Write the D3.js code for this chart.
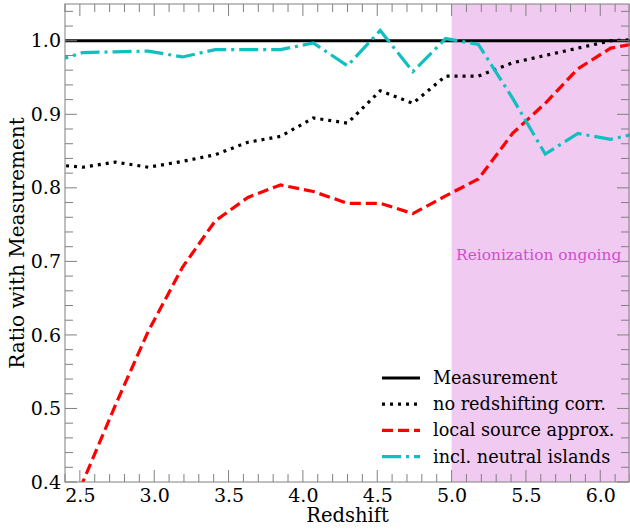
<!DOCTYPE html>
<html>
<head>
<meta charset="utf-8">
<script src="https://cdn.jsdelivr.net/npm/d3@7"></script>
<style>
  html, body { margin: 0; padding: 0; background: #fff; }
  text { font-family: "DejaVu Serif", serif; }
</style>
</head>
<body>
<svg id="chart" width="630" height="530"></svg>
<script>
// Redshift samples shared by every curve
const redshift = [2.30, 2.52, 2.74, 2.96, 3.19, 3.41, 3.63, 3.85, 4.07, 4.30, 4.52, 4.74, 4.96, 5.18, 5.41, 5.63, 5.85, 6.07, 6.29];

// Ratio of each model to the measurement
const measurement    = redshift.map(() => 1.0);
const noRedshifting  = [0.832, 0.828, 0.835, 0.828, 0.836, 0.845, 0.862, 0.870, 0.895, 0.888, 0.932, 0.915, 0.952, 0.952, 0.970, 0.980, 0.990, 1.000, 1.002];
const localSource    = [0.290, 0.400, 0.505, 0.605, 0.692, 0.755, 0.787, 0.804, 0.795, 0.779, 0.779, 0.765, 0.789, 0.812, 0.874, 0.915, 0.962, 0.990, 0.998];
const neutralIslands = [0.970, 0.984, 0.985, 0.986, 0.978, 0.988, 0.988, 0.988, 0.997, 0.966, 1.014, 0.958, 1.003, 0.995, 0.922, 0.846, 0.874, 0.866, 0.876];

const seriesNames = ["Measurement", "no redshifting corr.", "local source approx.", "incl. neutral islands"];

const xTicks = [2.5, 3.0, 3.5, 4.0, 4.5, 5.0, 5.5, 6.0];
const yTicks = [0.4, 0.5, 0.6, 0.7, 0.8, 0.9, 1.0];

const reionStart = 5.0;
const reionLabel = "Reionization ongoing";

const svg = d3.select("#chart");
const pLeft = 65, pRight = 630, pTop = 4, pBottom = 482;

const x = d3.scaleLinear().domain([2.4, 6.2]).range([pLeft, pRight]);
const y = d3.scaleLinear().domain([0.4, 1.05]).range([pBottom, pTop]);

svg.append("defs").append("clipPath").attr("id", "plot-clip")
  .append("rect").attr("x", pLeft).attr("y", pTop)
  .attr("width", pRight - pLeft).attr("height", pBottom - pTop);

// Reionization band
svg.append("rect")
  .attr("x", x(reionStart)).attr("y", pTop)
  .attr("width", x(6.2) - x(reionStart)).attr("height", pBottom - pTop)
  .attr("fill", "#f0caf0");

svg.append("text")
  .attr("x", x(5.586)).attr("y", y(0.707))
  .attr("text-anchor", "middle").attr("dominant-baseline", "middle")
  .attr("font-size", 15.4).attr("fill", "#d04ed0")
  .text(reionLabel);

// Curves
const styles = [
  { values: measurement,    color: "#000000", width: 3,   dash: null },
  { values: noRedshifting,  color: "#000000", width: 3.2, dash: "3,5" },
  { values: localSource,    color: "#ff0000", width: 3.2, dash: "11,5" },
  { values: neutralIslands, color: "#10bfbf", width: 3.2, dash: "19,5,3,5" }
];

const line = d3.line().x((d, i) => x(redshift[i])).y(d => y(d));
const plot = svg.append("g").attr("clip-path", "url(#plot-clip)");
styles.forEach(s => {
  plot.append("path")
    .datum(s.values)
    .attr("d", line)
    .attr("fill", "none")
    .attr("stroke", s.color)
    .attr("stroke-width", s.width)
    .attr("stroke-dasharray", s.dash);
});

// Inward ticks on all four sides
const tickColor = "#808080";
const xMinor = d3.range(2.4, 6.21, 0.1).map(v => +v.toFixed(2));
const yMinor = d3.range(0.4, 1.051, 0.02).map(v => +v.toFixed(2));

function isMajor(v, list) { return list.some(t => Math.abs(t - v) < 1e-6); }

const gTicks = svg.append("g");
xMinor.forEach(v => {
  const len = isMajor(v, xTicks) ? 12 : 8;
  gTicks.append("line").attr("x1", x(v)).attr("x2", x(v))
    .attr("y1", pBottom).attr("y2", pBottom - len)
    .attr("stroke", tickColor).attr("stroke-width", 1);
  gTicks.append("line").attr("x1", x(v)).attr("x2", x(v))
    .attr("y1", pTop).attr("y2", pTop + len)
    .attr("stroke", tickColor).attr("stroke-width", 1);
});
yMinor.forEach(v => {
  const len = isMajor(v, yTicks) ? 12 : 8;
  gTicks.append("line").attr("x1", pLeft).attr("x2", pLeft + len)
    .attr("y1", y(v)).attr("y2", y(v))
    .attr("stroke", tickColor).attr("stroke-width", 1);
  gTicks.append("line").attr("x1", pRight - 1).attr("x2", pRight - 1 - len)
    .attr("y1", y(v)).attr("y2", y(v))
    .attr("stroke", tickColor).attr("stroke-width", 1);
});

// Tick labels via d3 axes (tick lines hidden)
const xAxis = svg.append("g").attr("transform", `translate(0,${pBottom})`)
  .call(d3.axisBottom(x).tickValues(xTicks).tickFormat(d3.format(".1f")).tickSize(0).tickPadding(7));
xAxis.select(".domain").remove();
xAxis.selectAll("text").attr("font-size", 19).attr("fill", "#000").attr("font-family", "DejaVu Serif");

const yAxis = svg.append("g").attr("transform", `translate(${pLeft},0)`)
  .call(d3.axisLeft(y).tickValues(yTicks).tickFormat(d3.format(".1f")).tickSize(0).tickPadding(4));
yAxis.select(".domain").remove();
yAxis.selectAll("text").attr("font-size", 19).attr("fill", "#000").attr("font-family", "DejaVu Serif");

// Frame
svg.append("rect").attr("x", pLeft).attr("y", pTop)
  .attr("width", pRight - 1 - pLeft).attr("height", pBottom - pTop)
  .attr("fill", "none").attr("stroke", tickColor).attr("stroke-width", 1);

// Axis titles
svg.append("text")
  .attr("x", (pLeft + pRight) / 2).attr("y", 522)
  .attr("text-anchor", "middle").attr("font-size", 19.5)
  .text("Redshift");
svg.append("text")
  .attr("transform", `translate(24,${(pTop + pBottom) / 2}) rotate(-90)`)
  .attr("text-anchor", "middle").attr("font-size", 20)
  .text("Ratio with Measurement");

// Legend
const legend = svg.append("g");
const legY0 = 378, legStep = 26.2;
styles.forEach((s, i) => {
  const yy = legY0 + i * legStep;
  legend.append("line")
    .attr("x1", 382).attr("x2", 420).attr("y1", yy).attr("y2", yy)
    .attr("stroke", s.color).attr("stroke-width", s.width)
    .attr("stroke-dasharray", s.dash);
  legend.append("text")
    .attr("x", 433).attr("y", yy).attr("dominant-baseline", "central")
    .attr("font-size", 17.7).text(seriesNames[i]);
});
</script>
</body>
</html>
